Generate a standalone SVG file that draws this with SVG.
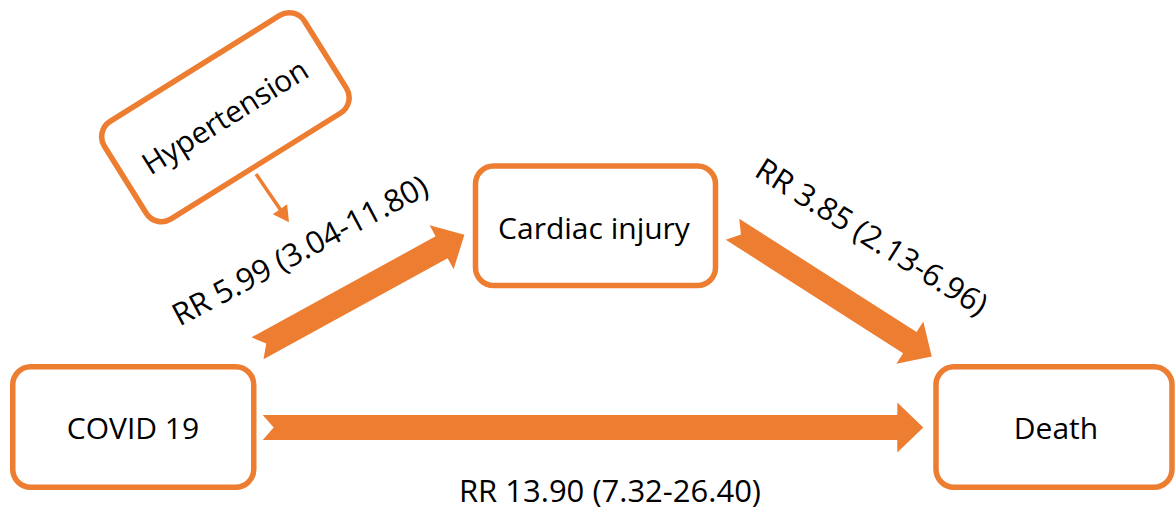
<svg xmlns="http://www.w3.org/2000/svg" width="1175" height="513" viewBox="0 0 1175 513">
<style>
.box{fill:#fff;stroke:#ED7D31;stroke-width:5.5}
.lbl{font-family:"Open Sans","Noto Sans",sans-serif;font-size:30px;fill:#000;text-anchor:middle}
.rr{font-size:31px}
.arr{fill:#ED7D31;stroke:none}
</style>
<rect width="1175" height="513" fill="#fff"/>
<g id="connectors">
<path class="arr" transform="translate(257.5,348.3) rotate(-28.75)" d="M0,-12.5 H210 V-25 L236,0 L210,25 V12.5 H0 L10,0 Z"/>
<path class="arr" transform="translate(732.5,229.2) rotate(32.6)" d="M0,-12.5 H210.5 V-25 L236.5,0 L210.5,25 V12.5 H0 L10,0 Z"/>
<path class="arr" transform="translate(262.7,427.5)" d="M0,-12.5 H634.6 V-25 L660.6,0 L634.6,25 V12.5 H0 L11,0 Z"/>
<line x1="256" y1="174" x2="281" y2="210.5" stroke="#ED7D31" stroke-width="3.5"/>
<polygon class="arr" points="289,222.3 272.8,214.2 287.1,204.2"/>
<text class="lbl rr" transform="translate(305,260) rotate(-28)">RR 5.99 (3.04-11.80)</text>
<text class="lbl rr" transform="translate(866,246) rotate(32)">RR 3.85 (2.13-6.96)</text>
<text class="lbl rr" x="610" y="501.5">RR 13.90 (7.32-26.40)</text>
</g>
<g id="hypertension" transform="translate(225.4,117.2) rotate(-32)">
<rect class="box" x="-118" y="-57.5" width="236" height="115" rx="18"/>
<text class="lbl" x="0" y="10">Hypertension</text>
</g>
<g id="covid19">
<rect class="box" x="12.75" y="366.75" width="241" height="120.5" rx="18"/>
<text class="lbl" x="133" y="439">COVID 19</text>
</g>
<g id="cardiac-injury">
<rect class="box" x="475.5" y="166" width="240" height="119.5" rx="18"/>
<text class="lbl" x="594" y="238.5">Cardiac injury</text>
</g>
<g id="death">
<rect class="box" x="936" y="366.75" width="236" height="120.5" rx="18"/>
<text class="lbl" x="1056" y="439">Death</text>
</g>
</svg>
